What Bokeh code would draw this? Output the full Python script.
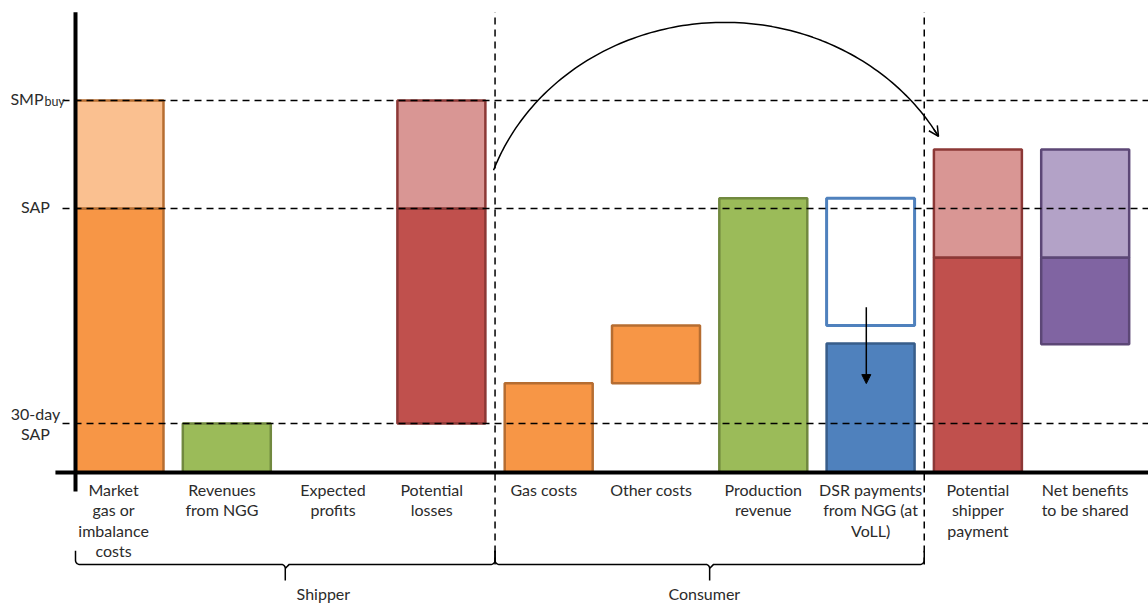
import numpy as np
from bokeh.plotting import figure
from bokeh.models import ColumnDataSource, Arrow, OpenHead, NormalHead
from bokeh.core.properties import value
from bokeh.embed import file_html
from bokeh.resources import INLINE

# ---------------- data ----------------
categories = ["Market\ngas or\nimbalance\ncosts", "Revenues\nfrom NGG", "Expected\nprofits",
              "Potential\nlosses", "Gas costs", "Other costs", "Production\nrevenue",
              "DSR payments\nfrom NGG (at\nVoLL)", "Potential\nshipper\npayment",
              "Net benefits\nto be shared"]

# price levels (arbitrary units, SMPbuy = 100)
level_names = ["SMP", "SAP", "30-day\nSAP"]
level_values = [100.0, 71.0, 13.2]

# main (darker) segment of each bar; NaN = no bar
dark_bottom = [0.0, 0.0, np.nan, 13.2, 0.0, 24.0, 0.0, 0.0, 0.0, 34.5]
dark_top = [71.0, 13.2, np.nan, 71.0, 24.0, 39.5, 73.7, 34.7, 57.8, 57.8]
# lighter upper segment (bottom = dark_top)
light_top = [100.0, np.nan, np.nan, 100.0, np.nan, np.nan, np.nan, np.nan, 86.8, 86.8]
# DSR payment before the shift (outlined box) for "DSR payments" category
dsr_outline_bottom = 39.5
dsr_outline_top = 73.7
dsr_index = 7

groups = ["Shipper", "Consumer"]
group_first = [0, 4]
group_last = [3, 7]
group_label_x = [1.9, 5.45]

# ---------------- style ----------------
dark_fill = ["#F79646", "#9BBB59", None, "#C0504D", "#F79646", "#F79646", "#9BBB59",
             "#4F81BD", "#C0504D", "#8064A2"]
light_fill = ["#FAC090", None, None, "#D99694", None, None, None, None, "#D99694", "#B3A2C7"]
border = ["#B66D31", "#71893F", None, "#8C3836", "#B66D31", "#B66D31", "#71893F",
          "#385D8A", "#8C3836", "#5C4776"]
label_dx = [-0.055, -0.045, -0.01, -0.09, -0.045, -0.045, 0.0, 0.0, 0.0, 0.0]
BAR_W = 0.82
FONT = value("Lato")
FS = "16px"
TXT = "#2b2b2b"

p = figure(width=1148, height=605, output_backend="svg", toolbar_location=None,
           x_range=(-1.109, 9.590), y_range=(-35.75, 126.88),
           min_border=0, outline_line_color=None, background_fill_color="white",
           border_fill_color="white")
p.xaxis.visible = False
p.yaxis.visible = False
p.xgrid.visible = False
p.ygrid.visible = False

idx = np.arange(len(categories))

# dark segments
m = ~np.isnan(np.array(dark_top))
src_dark = ColumnDataSource(dict(
    left=(idx - BAR_W / 2)[m], right=(idx + BAR_W / 2)[m],
    bottom=np.array(dark_bottom)[m], top=np.array(dark_top)[m],
    fill=[c for c, k in zip(dark_fill, m) if k], line=[c for c, k in zip(border, m) if k]))
p.quad(left="left", right="right", bottom="bottom", top="top", source=src_dark,
       fill_color="fill", line_color="line", line_width=2.5)

# light segments
ml = ~np.isnan(np.array(light_top))
src_light = ColumnDataSource(dict(
    left=(idx - BAR_W / 2)[ml], right=(idx + BAR_W / 2)[ml],
    bottom=np.array(dark_top)[ml], top=np.array(light_top)[ml],
    fill=[c for c, k in zip(light_fill, ml) if k], line=[c for c, k in zip(border, ml) if k]))
p.quad(left="left", right="right", bottom="bottom", top="top", source=src_light,
       fill_color="fill", line_color="line", line_width=2.5)

# DSR outline box
p.quad(left=[dsr_index - BAR_W / 2], right=[dsr_index + BAR_W / 2],
       bottom=[dsr_outline_bottom], top=[dsr_outline_top],
       fill_color="white", line_color="#4F81BD", line_width=3)

# horizontal dashed price levels
p.segment(x0=[-0.531] * 3, x1=[9.7] * 3, y0=level_values, y1=level_values,
          line_color="black", line_width=1.5, line_dash="7 5")

# vertical dashed group separators
sep_x = [group_last[0] + 0.5, group_last[1] + 0.5]
p.segment(x0=sep_x, x1=sep_x, y0=[-24.7] * 2, y1=[123.7] * 2,
          line_color="black", line_width=1.5, line_dash="7 5")

# axes lines
p.segment(x0=[-0.597], x1=[9.7], y0=[0], y1=[0], line_color="black", line_width=4)
p.segment(x0=[-BAR_W / 2], x1=[-BAR_W / 2], y0=[-5.1], y1=[123.7], line_color="black", line_width=4)

# DSR arrow
p.add_layout(Arrow(end=NormalHead(size=9, fill_color="black", line_color="black"),
                   x_start=dsr_index - 0.04, y_start=44.4, x_end=dsr_index - 0.04, y_end=23.9,
                   line_color="black", line_width=1.5))

# big arc arrow: from group separator to shipper payment bar
cx, cy, rx, ry = 5.638, 61.3, 2.283, 59.7
th = np.linspace(np.radians(160.5), np.radians(29.1), 120)
ax_ = cx + rx * np.cos(th)
ay_ = cy + ry * np.sin(th)
p.line(ax_, ay_, line_color="black", line_width=1.5)
p.add_layout(Arrow(end=OpenHead(size=10, line_width=1.5, line_color="black"),
                   x_start=ax_[-3], y_start=ay_[-3], x_end=ax_[-1], y_end=ay_[-1],
                   line_color="black", line_width=1.5))

# category labels
p.text(x=idx + np.array(label_dx), y=[-1.9] * len(idx), text=categories, text_align="center",
       text_baseline="top", text_font=FONT, text_font_size=FS, text_color=TXT,
       text_line_height=1.08)

# level labels
p.text(x=[-0.708], y=[level_values[0] + 0.45], text=[level_names[0]], text_align="right",
       text_baseline="middle", text_font=FONT, text_font_size=FS, text_color=TXT)
p.text(x=[-0.70], y=[level_values[0] - 0.3], text=["buy"], text_align="left",
       text_baseline="middle", text_font=FONT, text_font_size="12.5px", text_color=TXT)
p.text(x=[-0.783, -0.783], y=[level_values[1] + 0.6, level_values[2]], text=level_names[1:],
       text_align="center", text_baseline="middle", text_font=FONT, text_font_size=FS,
       text_color=TXT, text_line_height=1.08)

# braces
def brace(x0, x1, xt):
    r_x, r_y = 0.037, 1.08
    y_top, y_h, y_tip = -21.0, -24.7, -29.0
    t = np.linspace(0, np.pi / 2, 6)
    xs, ys = [x0], [y_top]
    xs += list(x0 + r_x - r_x * np.cos(t)); ys += list(y_h + r_y * (1 - np.sin(t)))
    xs += list(xt - r_x + r_x * np.sin(t)); ys += list(y_h - r_y * (1 - np.cos(t)))
    xs += [xt]; ys += [y_tip]
    xs += list(xt + r_x - r_x * np.cos(t)); ys += list(y_h - r_y * np.cos(t))
    xs += list(x1 - r_x + r_x * np.sin(t)); ys += list(y_h + r_y * (1 - np.cos(t)))
    xs += [x1]; ys += [y_top]
    return xs, ys

bx, by = [], []
for k in range(len(groups)):
    left = -BAR_W / 2 if k == 0 else group_first[k] - 0.5
    right = group_last[k] + 0.5
    xs, ys = brace(left, right, (left + right) / 2)
    bx.append(xs); by.append(ys)
p.multi_line(bx, by, line_color="black", line_width=1.5)

p.text(x=group_label_x, y=[-32.6] * 2, text=groups, text_align="center", text_baseline="middle",
       text_font=FONT, text_font_size=FS, text_color=TXT)

open("out.html", "w").write(file_html(p, INLINE))
